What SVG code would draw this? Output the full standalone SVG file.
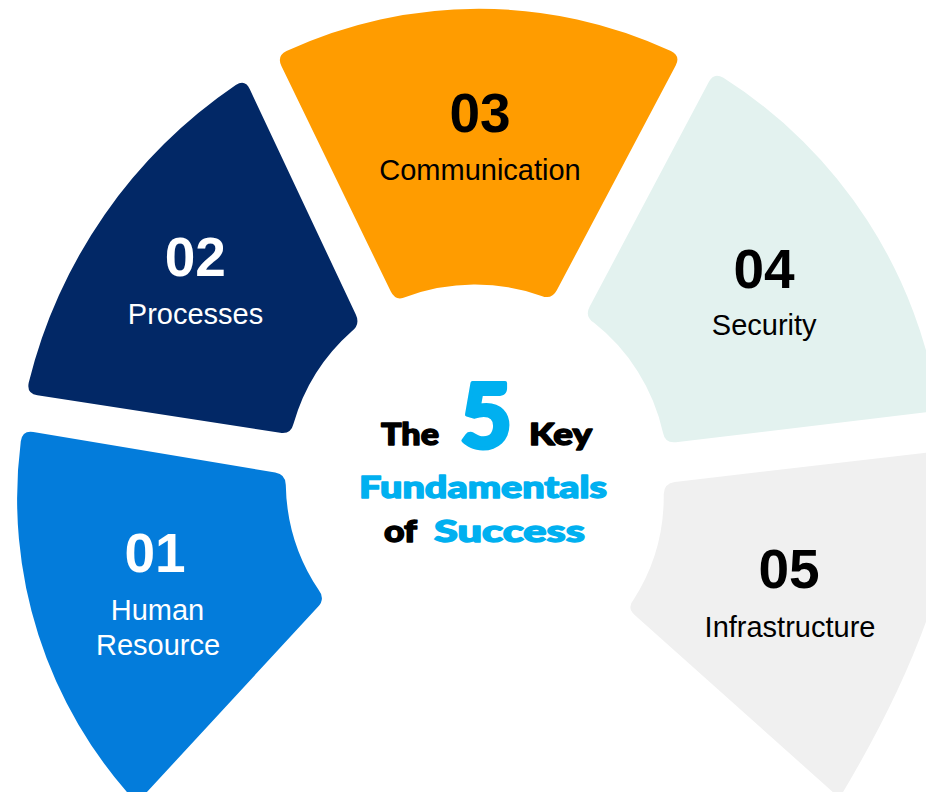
<svg xmlns="http://www.w3.org/2000/svg" width="926" height="792" viewBox="0 0 926 792">
  <style>
    .num { font-family: "Liberation Sans", Arial, sans-serif; font-weight: bold; font-size: 55px; text-anchor: middle; }
    .lbl { font-family: "Liberation Sans", Arial, sans-serif; font-size: 29px; text-anchor: middle; }
    .light { fill: #ffffff; }
    .dark { fill: #000000; }
    .ttl { font-family: Lato, "DejaVu Sans", sans-serif; font-weight: 900; stroke-width: 1.4px; stroke-linejoin: round; }
    .big { stroke-width: 4px; }
    .blk { fill: #000000; stroke: #000000; }
    .cyan { fill: #00B0F0; stroke: #00B0F0; }
  </style>
  <rect x="0" y="0" width="926" height="792" fill="#ffffff"/>

  <g id="connectors"></g>

  <g id="node-01">
    <path fill="#037CDB" d="M 33.3 432.1 L 275.2 472.5 Q 286 474.3 285.8 485.3 A 195 195 0 0 0 318.7 590.1 Q 325.5 598.7 318.0 606.8 L 136.8 803 A 447 447 0 0 1 20.8 441.2 Q 22.5 430.3 33.3 432.1 Z"/>
    <text class="num light" x="155" y="572">01</text>
    <text class="lbl light" x="157.5" y="620">Human</text>
    <text class="lbl light" x="158" y="655">Resource</text>
  </g>

  <g id="node-02">
    <path fill="#022866" d="M 37.4 395.3 Q 26.5 393.6 28.7 382.8 A 505 505 0 0 1 235.8 85.1 Q 245 79 249.7 89.0 L 355.8 314.6 Q 360.5 324.5 351.8 331.2 A 195 195 0 0 0 293.5 423.8 Q 291 434.5 280.1 432.8 Z"/>
    <text class="num light" x="195.3" y="276">02</text>
    <text class="lbl light" x="195.5" y="324">Processes</text>
  </g>

  <g id="node-03">
    <path fill="#FF9C00" d="M 281.4 65.9 Q 276.6 56 286.5 51.1 A 458 458 0 0 1 670.9 51.0 Q 680.8 55.8 675.7 65.5 L 556.8 290.3 Q 551.7 300 541.5 295.9 A 200 200 0 0 0 405.7 297.0 Q 395.6 301.5 390.8 291.6 Z"/>
    <text class="num dark" x="480" y="131.7">03</text>
    <text class="lbl dark" x="480" y="180">Communication</text>
  </g>

  <g id="node-04">
    <path fill="#E3F2EF" d="M 708.9 81.7 Q 714 72 723.4 77.8 A 475 475 0 0 1 938.8 410.8 L 675.9 442.2 Q 665 443.5 663.0 432.7 A 193 193 0 0 0 593.7 322.6 Q 584.5 316.5 589.6 306.8 Z"/>
    <text class="num dark" x="764" y="287.7">04</text>
    <text class="lbl dark" x="764.2" y="335">Security</text>
  </g>

  <g id="node-05">
    <path fill="#F0F0F0" d="M 674.9 481.9 L 970 447.6 L 970 560 L 926 621.7 Q 896.5 703 839.5 798 L 634.7 615.0 Q 626.5 607.7 633.7 599.4 A 190 190 0 0 0 663.7 494.2 Q 664 483.2 674.9 481.9 Z"/>
    <text class="num dark" x="789" y="588.3">05</text>
    <text class="lbl dark" x="790" y="636.7">Infrastructure</text>
  </g>

  <g id="title">
    <text class="ttl blk" x="381" y="445" font-size="30" textLength="58" lengthAdjust="spacingAndGlyphs">The</text>
    <text class="ttl cyan big" x="460" y="448" font-size="90" textLength="52" lengthAdjust="spacingAndGlyphs">5</text>
    <text class="ttl blk" x="529" y="445" font-size="30" textLength="63" lengthAdjust="spacingAndGlyphs">Key</text>
    <text class="ttl cyan" x="359" y="498.3" font-size="30" textLength="248" lengthAdjust="spacingAndGlyphs">Fundamentals</text>
    <text class="ttl blk" x="384" y="541.7" font-size="30" textLength="33" lengthAdjust="spacingAndGlyphs">of</text>
    <text class="ttl cyan" x="434" y="541.7" font-size="30" textLength="151" lengthAdjust="spacingAndGlyphs">Success</text>
  </g>
</svg>
